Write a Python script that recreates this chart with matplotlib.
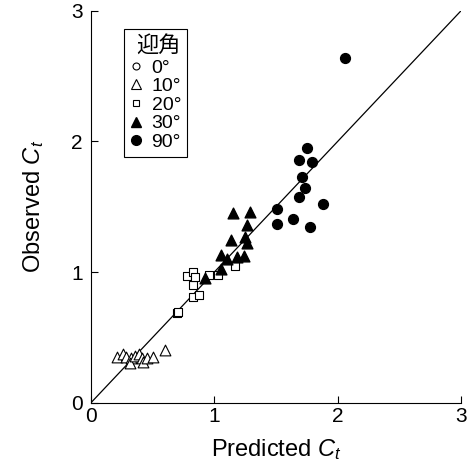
import matplotlib
matplotlib.use('Agg')
import matplotlib.pyplot as plt
from matplotlib.lines import Line2D

plt.rcParams['font.family'] = ['Liberation Sans', 'Noto Sans CJK JP', 'DejaVu Sans']
plt.rcParams['mathtext.fontset'] = 'custom'
plt.rcParams['mathtext.it'] = 'Liberation Sans:italic'
plt.rcParams['mathtext.rm'] = 'Liberation Sans'

# 10 deg (open triangles)
pred_10 = [0.213, 0.256, 0.283, 0.321, 0.316, 0.356, 0.391, 0.41, 0.423, 0.451, 0.5, 0.6]
obs_10 = [0.352, 0.373, 0.347, 0.34, 0.306, 0.357, 0.373, 0.34, 0.314, 0.34, 0.347, 0.40]

# 20 deg (open squares)
pred_20 = [0.694, 0.707, 0.823, 0.877, 0.829, 0.780, 0.823, 0.842, 0.958, 1.031, 1.166]
obs_20 = [0.684, 0.696, 0.811, 0.824, 0.90, 0.969, 1.002, 0.96, 0.977, 0.977, 1.046]

# 30 deg (filled triangles)
pred_30 = [1.152, 1.287, 1.266, 1.134, 1.247, 1.261, 1.058, 1.104, 1.18, 1.239, 1.05, 0.923]
obs_30 = [1.449, 1.461, 1.36, 1.245, 1.27, 1.22, 1.13, 1.097, 1.117, 1.125, 1.02, 0.952]

# 90 deg (filled circles)
pred_90 = [1.755, 1.684, 1.795, 1.714, 1.733, 1.690, 1.881, 1.512, 1.512, 1.638, 1.779, 2.057]
obs_90 = [1.946, 1.857, 1.844, 1.729, 1.645, 1.576, 1.518, 1.480, 1.367, 1.403, 1.347, 2.635]

legend_labels = ['0°', '10°', '20°', '30°', '90°']
ticks = [0, 1, 2, 3]

fig = plt.figure(figsize=(4.69, 4.68), dpi=100)
ax = fig.add_axes([0.194, 0.1395, 0.789, 0.8375])

ax.plot([0, 3], [0, 3], color='black', linewidth=0.9, zorder=1)

ax.scatter(pred_10, obs_10, marker='^', s=60, facecolors='white', edgecolors='black', linewidths=0.8, zorder=2)
ax.scatter(pred_20, obs_20, marker='s', s=40, facecolors='white', edgecolors='black', linewidths=0.8, zorder=2)
ax.scatter(pred_30, obs_30, marker='^', s=60, color='black', zorder=3)
ax.scatter(pred_90, obs_90, marker='o', s=50, color='black', zorder=3)

ax.set_xlim(0, 3)
ax.set_ylim(0, 3)
ax.set_xticks(ticks)
ax.set_yticks(ticks)
ax.tick_params(direction='in', length=5, width=0.8, labelsize=15)
ax.tick_params(axis='x', pad=3)
ax.tick_params(axis='y', pad=6)
ax.spines['top'].set_visible(False)
ax.spines['right'].set_visible(False)

ax.set_xlabel(r'Predicted $C_{t}$', fontsize=17, labelpad=8)
ax.set_ylabel(r'Observed $C_{t}$', fontsize=17, labelpad=18)

handles = [
    Line2D([], [], ls='none', marker='o', ms=5, mfc='white', mec='black', mew=0.8),
    Line2D([], [], ls='none', marker='^', ms=7, mfc='white', mec='black', mew=0.8),
    Line2D([], [], ls='none', marker='s', ms=5, mfc='white', mec='black', mew=0.8),
    Line2D([], [], ls='none', marker='^', ms=7, color='black'),
    Line2D([], [], ls='none', marker='o', ms=7, color='black'),
]
leg = ax.legend(handles, legend_labels, title='迎角', loc='upper left',
                bbox_to_anchor=(0.09, 0.953), borderaxespad=0, fontsize=14,
                title_fontproperties={'family': 'Noto Sans CJK JP', 'size': 16},
                fancybox=False, framealpha=1, edgecolor='black',
                handlelength=0.6, handletextpad=0.5, labelspacing=0.05,
                borderpad=0.3)
leg.get_frame().set_linewidth(0.8)
leg._legend_box.align = 'right'

fig.savefig('out.png', dpi=100, facecolor='white')
